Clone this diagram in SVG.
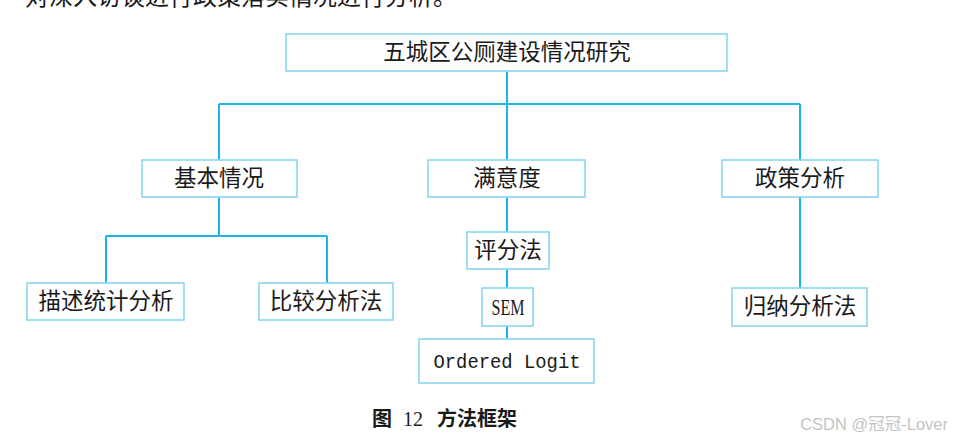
<svg xmlns="http://www.w3.org/2000/svg" width="953" height="442" viewBox="0 0 953 442">
<style>
.box{fill:#ffffff;stroke:#8ad6f2;stroke-width:1.6}
.t{font-family:"Liberation Serif","Noto Sans CJK SC",serif;font-size:22.5px;fill:#1a1a1a;text-anchor:middle}
.ln{stroke:#1ab4e6;stroke-width:2;fill:none}
</style>
<rect width="953" height="442" fill="#ffffff"/>
<text x="25" y="5" font-family="Liberation Serif,Noto Sans CJK SC,serif" font-size="24" fill="#1a1a1a" textLength="432" lengthAdjust="spacingAndGlyphs">对深入访谈进行政策落实情况进行分析。</text>
<g id="connectors">
<path class="ln" d="M507 71V104M219 104H800M219 104V160M507 104V160M800 104V160"/>
<path class="ln" d="M219 197V236M106 236H327M106 236V283M327 236V283"/>
<path class="ln" d="M507 197V232M507 269V288M507 326V339"/>
<path class="ln" d="M800 197V288"/>
</g>
<g id="root"><rect class="box" x="286" y="34" width="441" height="37"/><text class="t" x="507" y="60">五城区公厕建设情况研究</text></g>
<g id="basic"><rect class="box" x="142" y="160" width="155" height="37"/><text class="t" x="219" y="186">基本情况</text></g>
<g id="satisfaction"><rect class="box" x="428" y="160" width="157" height="37"/><text class="t" x="507" y="186">满意度</text></g>
<g id="policy"><rect class="box" x="722" y="160" width="156" height="37"/><text class="t" x="800" y="186">政策分析</text></g>
<g id="desc"><rect class="box" x="27" y="283" width="157" height="37"/><text class="t" x="106" y="309">描述统计分析</text></g>
<g id="compare"><rect class="box" x="259" y="283" width="134" height="37"/><text class="t" x="326" y="309">比较分析法</text></g>
<g id="score"><rect class="box" x="467" y="232" width="82" height="37"/><text class="t" x="508" y="258">评分法</text></g>
<g id="sem"><rect class="box" x="482" y="288" width="51" height="38"/><text class="t" x="508" y="315" font-size="22" textLength="33" lengthAdjust="spacingAndGlyphs">SEM</text></g>
<g id="logit"><rect class="box" x="419" y="339" width="175" height="44"/><text x="507" y="368" font-family="Liberation Mono,monospace" font-size="19.5" fill="#1a1a1a" text-anchor="middle" textLength="147" lengthAdjust="spacingAndGlyphs">Ordered Logit</text></g>
<g id="induct"><rect class="box" x="732" y="288" width="135" height="38"/><text class="t" x="800" y="314">归纳分析法</text></g>
<text x="372" y="426" font-family="Liberation Serif,Noto Sans CJK SC,serif" font-size="20" font-weight="bold" fill="#1a1a1a">图</text>
<text x="403" y="426" font-family="Liberation Serif,serif" font-size="20" fill="#1a1a1a">12</text>
<text x="437" y="426" font-family="Liberation Serif,Noto Sans CJK SC,serif" font-size="20" font-weight="bold" fill="#1a1a1a">方法框架</text>
<text x="948" y="430" font-family="Liberation Sans,Noto Sans CJK SC,sans-serif" font-size="16.5" fill="#c4c4c4" text-anchor="end">CSDN @冠冠-Lover</text>
</svg>
